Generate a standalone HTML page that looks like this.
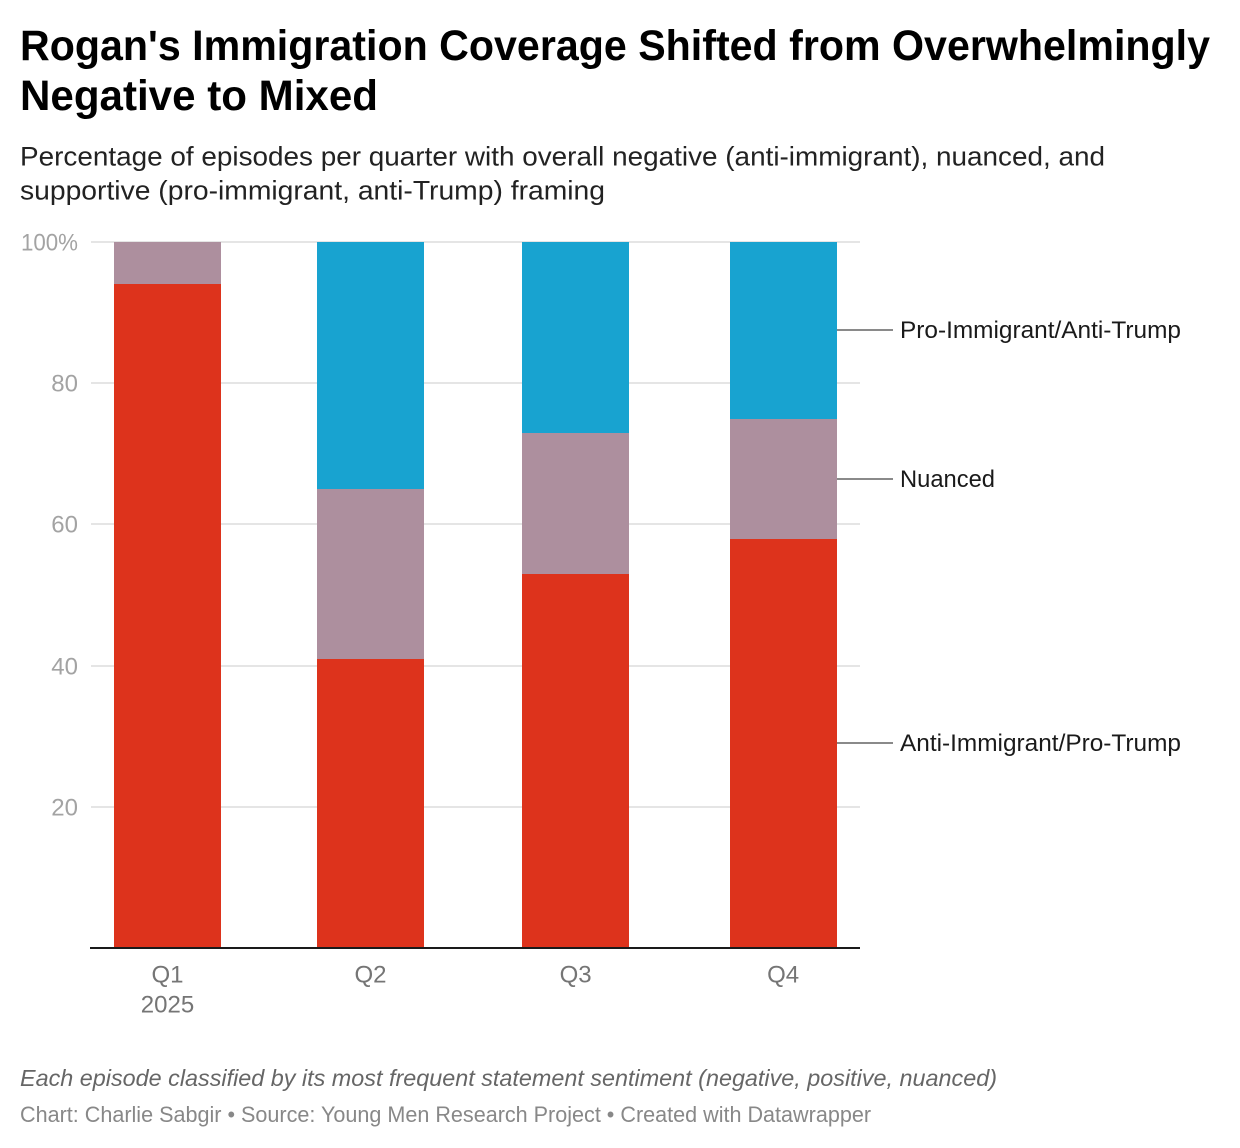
<!DOCTYPE html>
<html lang="en">
<head>
<meta charset="utf-8">
<title>Rogan's Immigration Coverage</title>
<style>
html,body{margin:0;padding:0;background:#fff;}
body{width:1240px;height:1148px;overflow:hidden;}
svg{display:block;font-family:"Liberation Sans",Arial,sans-serif;}
</style>
</head>
<body>
<svg id="chart" xmlns="http://www.w3.org/2000/svg" width="1240" height="1148" viewBox="0 0 1240 1148">
  <rect x="0" y="0" width="1240" height="1148" fill="#fff"/>
  <g font-size="43" font-weight="700" fill="#000">
    <text x="20" y="60" textLength="1190" lengthAdjust="spacingAndGlyphs">Rogan's Immigration Coverage Shifted from Overwhelmingly</text>
    <text x="20" y="110" textLength="358" lengthAdjust="spacingAndGlyphs">Negative to Mixed</text>
  </g>
  <g font-size="27" fill="#222">
    <text x="20" y="165.5" textLength="1085" lengthAdjust="spacingAndGlyphs">Percentage of episodes per quarter with overall negative (anti-immigrant), nuanced, and</text>
    <text x="20" y="199.5" textLength="585" lengthAdjust="spacingAndGlyphs">supportive (pro-immigrant, anti-Trump) framing</text>
  </g>
  <g id="grid"></g>
  <g id="y-axis"></g>
  <g id="bars"></g>
  <line x1="90" x2="860" y1="948" y2="948" stroke="#1a1a1a" stroke-width="2"/>
  <g id="x-axis"></g>
  <g id="labels"></g>
  <text x="20" y="1086" font-size="23.5" font-style="italic" fill="#666" textLength="977" lengthAdjust="spacingAndGlyphs">Each episode classified by its most frequent statement sentiment (negative, positive, nuanced)</text>
  <text x="20" y="1122" font-size="22" fill="#888" textLength="851" lengthAdjust="spacingAndGlyphs">Chart: Charlie Sabgir • Source: Young Men Research Project • Created with Datawrapper</text>
</svg>
<script>
// Chart data
const quarters = ['Q1', 'Q2', 'Q3', 'Q4'];
const quarterSubLabels = ['2025', '', '', ''];
const quarterStartDays = [0, 90, 181, 273];
const antiImmigrant = [94, 41, 53, 58];
const nuanced = [6, 24, 20, 17];
const proImmigrant = [0, 35, 27, 25];
const yTicks = [20, 40, 60, 80, 100];
const yTickLabels = ['20', '40', '60', '80', '100%'];
const seriesNames = ['Anti-Immigrant/Pro-Trump', 'Nuanced', 'Pro-Immigrant/Anti-Trump'];

const seriesValues = [antiImmigrant, nuanced, proImmigrant];
const seriesColors = ['#dd331c', '#ad8f9e', '#18a3d0'];
const seriesKeys = ['anti-immigrant', 'nuanced', 'pro-immigrant'];
const SVGNS = 'http://www.w3.org/2000/svg';

// Axis functions
function yScale(v) { return 948 - v * 7.06; }
function xScale(day) { return 167.5 + day * 2.255; }
const BAR_WIDTH = 107;

function make(tag, parent, attrs) {
  const el = document.createElementNS(SVGNS, tag);
  Object.keys(attrs).forEach(function (k) { el.setAttribute(k, attrs[k]); });
  parent.appendChild(el);
  return el;
}

const gridG = document.getElementById('grid');
const yAxisG = document.getElementById('y-axis');
yTicks.forEach(function (t, i) {
  const gy = Math.round(yScale(t));
  const line = make('line', gridG, { x1: 91, x2: 860, y1: gy, y2: gy, stroke: '#e5e5e5', 'stroke-width': 2 });
  
  
  const label = make('text', yAxisG, { x: 78, y: gy + 8.5, 'text-anchor': 'end', 'font-size': 24, fill: '#a3a3a3' });
  label.textContent = yTickLabels[i];
  if (yTickLabels[i].indexOf('%') !== -1) {
    label.setAttribute('textLength', 57);
    label.setAttribute('lengthAdjust', 'spacingAndGlyphs');
  }
  
  
});

const barsG = document.getElementById('bars');
quarters.forEach(function (q, i) {
  let base = 0;
  seriesValues.forEach(function (vals, s) {
    const v = vals[i];
    if (v > 0) {
      const left = Math.round(xScale(quarterStartDays[i]) - BAR_WIDTH / 2);
      const top = Math.round(yScale(base + v));
      const bottom = base === 0 ? 947 : Math.round(yScale(base));
      const rect = make('rect', barsG, {
        x: left,
        y: top,
        width: BAR_WIDTH,
        height: bottom - top,
        fill: seriesColors[s]
      });
      
      
    }
    base += v;
  });
});

const xAxisG = document.getElementById('x-axis');
quarters.forEach(function (q, i) {
  const cx = xScale(quarterStartDays[i]);
  const label = make('text', xAxisG, { x: cx, y: 982.5, 'text-anchor': 'middle', 'font-size': 24, fill: '#757575' });
  label.textContent = q;
  
  
  if (quarterSubLabels[i]) {
    const sub = make('text', xAxisG, { x: cx, y: 1012.5, 'text-anchor': 'middle', 'font-size': 24, fill: '#757575' });
    sub.textContent = quarterSubLabels[i];
    
    
  }
});

// Direct series labels attached to the last bar
const labelsG = document.getElementById('labels');
const lastIndex = quarters.length - 1;
let labelBase = 0;
seriesValues.forEach(function (vals, s) {
  const v = vals[lastIndex];
  const midY = Math.round(yScale(labelBase + v / 2));
  const barRight = Math.round(xScale(quarterStartDays[lastIndex]) - BAR_WIDTH / 2) + BAR_WIDTH;
  const leader = make('line', labelsG, { x1: barRight, x2: barRight + 56, y1: midY, y2: midY, stroke: '#8a8a8a', 'stroke-width': 2 });
  
  
  const text = make('text', labelsG, { x: barRight + 63, y: midY + 8, 'font-size': 24, fill: '#1a1a1a' });
  text.textContent = seriesNames[s];
  
  
  text.setAttribute('textLength', seriesNames[s].length > 10 ? 281 : 95);
  text.setAttribute('lengthAdjust', 'spacingAndGlyphs');
  labelBase += v;
});
</script>
</body>
</html>
